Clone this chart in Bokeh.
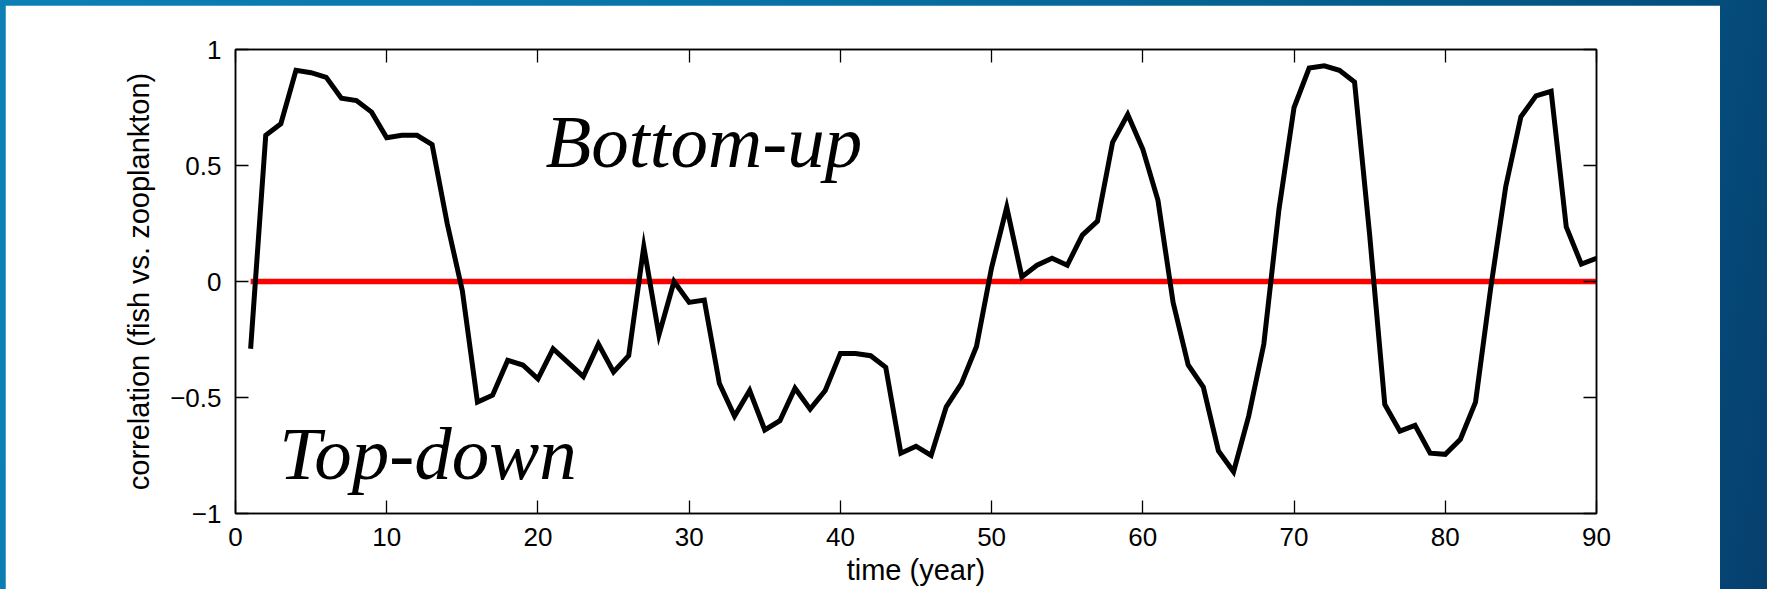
from bokeh.plotting import figure
from bokeh.models import Range1d, FixedTicker, LinearAxis, ColumnDataSource
from bokeh.layouts import column
from bokeh.core.properties import value
from bokeh.embed import file_html
from bokeh.resources import INLINE

# Running correlation between fish and zooplankton, one value per year
years = list(range(1, 91))
correlation = [
    -0.29, 0.63, 0.68, 0.91, 0.90, 0.88, 0.79, 0.78, 0.73, 0.62,
    0.63, 0.63, 0.59, 0.25, -0.04, -0.52, -0.49, -0.34, -0.36, -0.42,
    -0.29, -0.35, -0.41, -0.27, -0.39, -0.32, 0.15, -0.23, 0.00, -0.09,
    -0.08, -0.44, -0.58, -0.47, -0.64, -0.60, -0.46, -0.55, -0.47, -0.31,
    -0.31, -0.32, -0.37, -0.74, -0.71, -0.75, -0.54, -0.44, -0.28, 0.06,
    0.32, 0.02, 0.07, 0.10, 0.07, 0.20, 0.26, 0.60, 0.72, 0.57,
    0.35, -0.09, -0.36, -0.455, -0.73, -0.82, -0.58, -0.27, 0.31, 0.75,
    0.92, 0.93, 0.91, 0.86, 0.20, -0.53, -0.645, -0.62, -0.74, -0.745,
    -0.68, -0.52, -0.03, 0.41, 0.71, 0.80, 0.82, 0.235, 0.075, 0.10,
]
zero_x = [1, 90]
zero_y = [0, 0]

x_ticks = [0, 10, 20, 30, 40, 50, 60, 70, 80, 90]
y_ticks = [-1, -0.5, 0, 0.5, 1]
y_tick_labels = ["\u22121", "\u22120.5", "0", "0.5", "1"]

regime_labels = ["Bottom-up", "Top-down"]
regime_x = [20.5, 2.9]
regime_y = [0.605, -0.74]

SANS = "Liberation Sans"
SERIF = "Liberation Serif"

p = figure(
    width=1715, height=584,
    x_range=Range1d(0, 90), y_range=Range1d(-1, 1),
    output_backend="svg", toolbar_location=None,
    x_axis_label="time (year)",
    y_axis_label="correlation (fish vs. zooplankton)",
    min_border_left=230, min_border_right=124,
    min_border_top=44, min_border_bottom=76,
    background_fill_color="white", border_fill_color="white",
    margin=(5, 47, 0, 5),
)
p.grid.visible = False
p.outline_line_color = "black"
p.outline_line_width = 1.5

# box-style axes on all four sides, ticks pointing inward
p.add_layout(LinearAxis(), "above")
p.add_layout(LinearAxis(), "right")

for ax in p.xaxis:
    ax.ticker = FixedTicker(ticks=x_ticks)
for ax in p.yaxis:
    ax.ticker = FixedTicker(ticks=y_ticks)
    ax.major_label_overrides = {t: s for t, s in zip(y_ticks, y_tick_labels)}

for ax in p.axis:
    ax.axis_line_color = "black"
    ax.axis_line_width = 1.5
    ax.major_tick_in = 13
    ax.major_tick_out = 0
    ax.major_tick_line_color = "black"
    ax.major_tick_line_width = 1.3
    ax.minor_tick_line_color = None
    ax.major_label_text_font = SANS
    ax.major_label_text_font_size = "26px"
    ax.major_label_text_color = "black"
    ax.major_label_standoff = 14
    ax.axis_label_text_font = SANS
    ax.axis_label_text_font_size = "29px"
    ax.axis_label_text_font_style = "normal"
    ax.axis_label_text_color = "black"

p.below[0].axis_label_standoff = 5
p.left[0].axis_label_standoff = 12

for ax in (p.above[0], p.right[0]):
    ax.major_label_text_color = None
    ax.major_label_text_font_size = "1px"
    ax.major_label_standoff = 0

# zero reference line, then the correlation series on top
p.line(zero_x, zero_y, line_color="#ff0000", line_width=5.5)
p.line(years, correlation, line_color="black", line_width=5, line_join="miter")

src = ColumnDataSource(dict(x=regime_x, y=regime_y, t=regime_labels))
p.text(x="x", y="y", text="t", source=src,
       text_font=value(SERIF), text_font_style="italic",
       text_font_size="75px", text_color="black",
       text_align="left", text_baseline="alphabetic")

page = column(
    p,
    styles={"background": "linear-gradient(100deg, #0c80b5 0%, #0872a6 40%, #05608f 70%, #04507f 90%, #063f6e 100%)"},
)

open("out.html", "w").write(file_html(page, INLINE))
